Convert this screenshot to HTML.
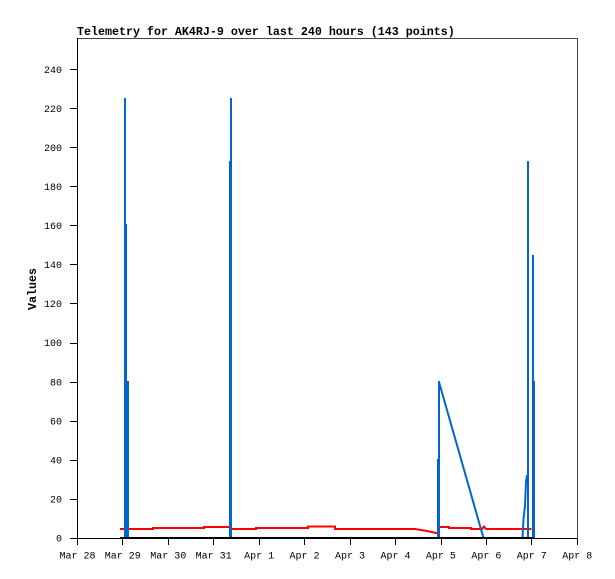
<!DOCTYPE html>
<html><head><meta charset="utf-8"><style>
html,body{margin:0;padding:0;background:#fff;}
svg{display:block;}
text{font-family:"Liberation Mono","DejaVu Sans Mono",monospace;fill:#000;}
</style></head><body>
<svg width="615" height="579" viewBox="0 0 615 579" xmlns="http://www.w3.org/2000/svg">
<rect width="615" height="579" fill="#fff"/>
<text x="77" y="35" font-size="11.67" font-weight="bold">Telemetry for AK4RJ-9 over last 240 hours (143 points)</text>
<text transform="translate(36,289) rotate(-90)" font-size="11.67" font-weight="bold" text-anchor="middle">Values</text>
<g shape-rendering="crispEdges">
<line x1="77" y1="38.5" x2="578" y2="38.5" stroke="#444" stroke-width="1"/>
<line x1="577.5" y1="38" x2="577.5" y2="538" stroke="#444" stroke-width="1"/>
</g>
<g font-size="10" text-anchor="end">
<text x="62" y="541.5">0</text>
<text x="62" y="502.4">20</text>
<text x="62" y="463.4">40</text>
<text x="62" y="424.3">60</text>
<text x="62" y="385.3">80</text>
<text x="62" y="346.2">100</text>
<text x="62" y="307.1">120</text>
<text x="62" y="268.1">140</text>
<text x="62" y="229">160</text>
<text x="62" y="190">180</text>
<text x="62" y="150.9">200</text>
<text x="62" y="111.8">220</text>
<text x="62" y="72.8">240</text>
</g>
<g stroke="#000" stroke-width="1" shape-rendering="crispEdges">
<line x1="70" y1="538.5" x2="77" y2="538.5"/>
<line x1="70" y1="499.5" x2="77" y2="499.5"/>
<line x1="70" y1="460.5" x2="77" y2="460.5"/>
<line x1="70" y1="421.5" x2="77" y2="421.5"/>
<line x1="70" y1="382.5" x2="77" y2="382.5"/>
<line x1="70" y1="343.5" x2="77" y2="343.5"/>
<line x1="70" y1="303.5" x2="77" y2="303.5"/>
<line x1="70" y1="264.5" x2="77" y2="264.5"/>
<line x1="70" y1="225.5" x2="77" y2="225.5"/>
<line x1="70" y1="186.5" x2="77" y2="186.5"/>
<line x1="70" y1="147.5" x2="77" y2="147.5"/>
<line x1="70" y1="108.5" x2="77" y2="108.5"/>
<line x1="70" y1="69.5" x2="77" y2="69.5"/>
<line x1="77.5" y1="545" x2="77.5" y2="538"/>
<line x1="122.5" y1="545" x2="122.5" y2="538"/>
<line x1="168.5" y1="545" x2="168.5" y2="538"/>
<line x1="213.5" y1="545" x2="213.5" y2="538"/>
<line x1="259.5" y1="545" x2="259.5" y2="538"/>
<line x1="304.5" y1="545" x2="304.5" y2="538"/>
<line x1="350.5" y1="545" x2="350.5" y2="538"/>
<line x1="395.5" y1="545" x2="395.5" y2="538"/>
<line x1="441.5" y1="545" x2="441.5" y2="538"/>
<line x1="486.5" y1="545" x2="486.5" y2="538"/>
<line x1="531.5" y1="545" x2="531.5" y2="538"/>
<line x1="577.5" y1="545" x2="577.5" y2="538"/>
</g>
<g font-size="10" text-anchor="middle">
<text x="77.5" y="558.5">Mar 28</text>
<text x="122.7" y="558.5">Mar 29</text>
<text x="168.2" y="558.5">Mar 30</text>
<text x="213.6" y="558.5">Mar 31</text>
<text x="259.1" y="558.5">Apr 1</text>
<text x="304.5" y="558.5">Apr 2</text>
<text x="350" y="558.5">Apr 3</text>
<text x="395.5" y="558.5">Apr 4</text>
<text x="440.9" y="558.5">Apr 5</text>
<text x="486.4" y="558.5">Apr 6</text>
<text x="531.8" y="558.5">Apr 7</text>
<text x="577.3" y="558.5">Apr 8</text>
</g>
<!-- red series -->
<polyline fill="none" stroke="#ff0000" stroke-width="2" stroke-linejoin="miter" points="120,529 153,529 153,528 204,528 204,527 230,527 230,529 256,529 256,528 308,528 308,526.5 335,526.5 335,529 415,529 421,530 427,531 436,533 438,533 438,527 449,527 449,528 471,528 471,529 482,529 484,526.5 486,529 531.5,529"/>
<!-- blue series -->
<g fill="#0066cc" shape-rendering="crispEdges">
<rect x="124" y="98" width="2" height="440"/>
<rect x="126" y="224" width="1" height="314"/>
<rect x="127" y="381" width="2" height="157"/>
<rect x="230" y="98" width="2" height="440"/>
<rect x="229" y="161" width="1" height="377"/>
<rect x="437" y="459" width="1" height="79"/>
<rect x="438" y="381" width="2" height="157"/>
<rect x="527" y="161" width="2" height="377"/>
<rect x="532" y="255" width="2" height="283"/>
<rect x="534" y="381" width="1" height="157"/>
</g>
<polyline fill="none" stroke="#0066cc" stroke-width="2" points="439,382 483.5,538"/>
<polyline fill="none" stroke="#0066cc" stroke-width="2" points="522.5,538 523.5,519 525,506 526,482 527,475"/>
<!-- axes -->
<g shape-rendering="crispEdges">
<line x1="77.5" y1="38" x2="77.5" y2="538" stroke="#000" stroke-width="1"/>
<line x1="77" y1="538.5" x2="578" y2="538.5" stroke="#000" stroke-width="1"/>
<rect x="120" y="537" width="413" height="2" fill="#000"/>
</g>
</svg>
</body></html>
